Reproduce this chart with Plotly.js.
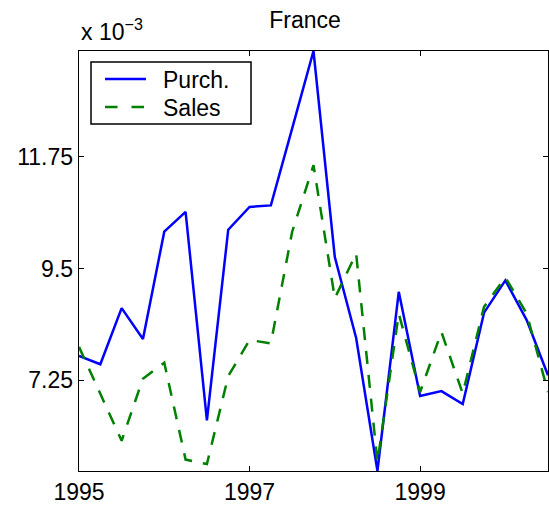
<!DOCTYPE html>
<html>
<head>
<meta charset="utf-8">
<script src="https://cdn.plot.ly/plotly-3.0.1.min.js"></script>
<style>html,body{margin:0;padding:0;background:#fff;}#chart{width:549px;height:512px;}</style>
</head>
<body>
<div id="chart"></div>
<script>
// Quarterly dates
const dates = [1995, 1995.25, 1995.5, 1995.75, 1996, 1996.25, 1996.5, 1996.75,
               1997, 1997.25, 1997.5, 1997.75, 1998, 1998.25, 1998.5, 1998.75,
               1999, 1999.25, 1999.5, 1999.75, 2000, 2000.25, 2000.5];
// Values in units of 10^-3
const purch = [7.74, 7.57, 8.70, 8.08, 10.24, 10.64, 6.44, 10.28,
               10.74, 10.77, 12.32, 13.88, 9.73, 8.10, 5.42, 9.03,
               6.93, 7.03, 6.77, 8.61, 9.26, 8.46, 7.35];
const sales = [7.92, 6.99, 6.03, 7.28, 7.60, 5.65, 5.56, 7.33,
               8.06, 7.99, 10.24, 11.58, 8.90, 9.80, 5.60, 8.59,
               7.01, 8.22, 6.98, 8.73, 9.32, 8.59, 7.01];
const seriesNames = ["Purch.", "Sales"];
const seriesColors = ["#0000FF", "#008000"];
const seriesDash = ["solid", "13px,11px"];
const yTicks = [7.25, 9.5, 11.75];
const yTickText = ["7.25", "9.5", "11.75"];
const xTicks = [1995, 1997, 1999];
const xTickText = ["1995", "1997", "1999"];
const chartTitle = "France";
const scaleLabel = "x 10<sup>−3</sup>";

const FONT = "Liberation Sans, Arial, Helvetica, sans-serif";
const allVals = purch.concat(sales);

const traces = [
  {x: dates, y: purch, name: seriesNames[0], type: "scatter", mode: "lines",
   line: {color: seriesColors[0], width: 2.5, dash: seriesDash[0]}},
  {x: dates, y: sales, name: seriesNames[1], type: "scatter", mode: "lines",
   line: {color: seriesColors[1], width: 2.5, dash: seriesDash[1]}}
];

const axisCommon = {
  showgrid: false, zeroline: false, showline: true, linecolor: "#000", linewidth: 1.3,
  mirror: "ticks", ticks: "inside", ticklen: 5, tickwidth: 1, tickcolor: "#000",
  tickfont: {family: FONT, size: 23, color: "#000"}
};

// Legend box drawn in the plot area (pixel positions converted to paper fractions)
const M = {l: 79, r: 1, t: 51, b: 41};
const PW = 549 - M.l - M.r, PH = 512 - M.t - M.b;
const px = v => (v - M.l) / PW;
const py = v => (512 - M.b - v) / PH;
const legBox = {x0: 91, x1: 251, y0: 62, y1: 124};
const legRows = [79, 107];
const shapes = [
  {type: "rect", xref: "paper", yref: "paper", x0: px(legBox.x0), x1: px(legBox.x1),
   y0: py(legBox.y1), y1: py(legBox.y0), line: {color: "#000", width: 1.5}, fillcolor: "#fff", layer: "above"}
];
const annotations = [{
  text: scaleLabel, xref: "paper", yref: "paper", x: 0, y: 1, xanchor: "left", yanchor: "bottom",
  yshift: 4, showarrow: false, font: {family: FONT, size: 23, color: "#000"}
}];
seriesNames.forEach((n, i) => {
  shapes.push({type: "line", xref: "paper", yref: "paper", x0: px(105), x1: px(146),
    y0: py(legRows[i]), y1: py(legRows[i]), layer: "above",
    line: {color: seriesColors[i], width: 2.5, dash: i === 0 ? "solid" : "12.5px,14px"}});
  annotations.push({text: n, xref: "paper", yref: "paper", x: px(161), y: py(legRows[i] + 1),
    xanchor: "left", yanchor: "middle", showarrow: false,
    font: {family: FONT, size: 23, color: "#000"}});
});

const layout = {
  width: 549, height: 512,
  margin: {l: M.l, r: M.r, t: M.t, b: M.b, pad: 0},
  paper_bgcolor: "#fff", plot_bgcolor: "#fff",
  font: {family: FONT, size: 23, color: "#000"},
  title: {text: chartTitle, font: {family: FONT, size: 23, color: "#000"},
          x: 305 / 549, xanchor: "center", xref: "container", y: 1 - 12 / 512, yanchor: "top"},
  xaxis: Object.assign({}, axisCommon, {
    range: [dates[0], dates[dates.length - 1]], tickmode: "array",
    tickvals: xTicks, ticktext: xTickText
  }),
  yaxis: Object.assign({}, axisCommon, {
    range: [Math.min(...allVals), Math.max(...allVals)], tickmode: "array",
    tickvals: yTicks, ticktext: yTickText
  }),
  showlegend: false,
  shapes: shapes,
  annotations: annotations
};

Plotly.newPlot("chart", traces, layout, {displayModeBar: false, staticPlot: true});
</script>
</body>
</html>
